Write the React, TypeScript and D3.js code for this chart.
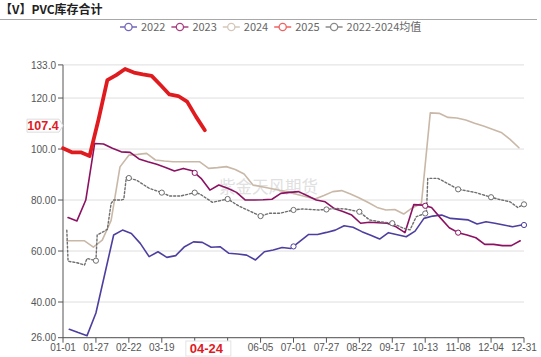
import React from "react";
import * as d3 from "d3";

const W = 541;
const H = 357;

const titleText = "【V】PVC库存合计";
const watermarkText = "紫金天风期货";
const tickLabels = ["01-01", "01-27", "02-22", "03-19", "04-14", "05-10", "06-05", "07-01", "07-27", "08-22", "09-17", "10-13", "11-08", "12-04", "12-31"];
const yTicks = [26, 40, 60, 80, 100, 120, 133];
const yTickLabels = ["26.00", "40.00", "60.00", "80.00", "100.0", "120.0", "133.0"];
const legendNames = ["2022", "2023", "2024", "2025", "2022-2024均值"];

// weekly series: first day-of-year index and weekly values
const start2022 = 5;
const values2022 = [29.3, 28.0, 26.8, 35.7, 51.0, 66.3, 68.2, 66.9, 63.0, 57.8, 59.7, 57.5, 58.2, 61.7, 63.6, 63.4, 61.5, 61.7, 59.1, 58.8, 58.4, 56.5, 59.7, 60.4, 61.4, 61.0, 63.8, 66.5, 66.5, 67.3, 68.2, 69.9, 69.3, 67.6, 66.2, 64.7, 67.2, 66.4, 65.6, 67.8, 72.8, 73.7, 74.1, 72.8, 72.5, 72.2, 70.6, 71.5, 70.9, 70.2, 69.5, 70.2];
const start2023 = 4;
const values2023 = [73.1, 71.8, 80.0, 102.2, 102.0, 100.3, 98.9, 98.7, 96.1, 95.0, 94.0, 92.8, 91.4, 92.4, 91.5, 88.5, 83.9, 85.9, 84.6, 83.0, 80.0, 80.0, 80.1, 80.3, 82.6, 83.0, 83.3, 81.7, 80.0, 79.3, 76.7, 75.5, 74.1, 70.9, 71.3, 71.1, 70.9, 69.5, 67.2, 78.2, 78.0, 77.1, 73.0, 69.1, 67.2, 66.3, 65.2, 62.6, 62.6, 62.1, 62.1, 64.0];
const start2024 = 3;
const values2024 = [64.0, 64.0, 64.0, 61.5, 64.3, 72.0, 93.0, 97.6, 97.9, 98.3, 95.7, 95.3, 95.0, 95.0, 95.0, 95.0, 92.4, 92.7, 93.1, 92.0, 90.2, 85.9, 85.2, 84.5, 83.8, 83.2, 82.2, 81.3, 80.4, 81.8, 83.3, 83.7, 82.4, 80.8, 79.0, 77.1, 76.1, 76.3, 74.5, 77.0, 78.6, 114.2, 114.0, 112.4, 112.2, 111.4, 110.1, 109.0, 107.8, 106.5, 103.8, 100.5];
const start2025 = 0;
const values2025 = [100.3, 98.7, 98.7, 97.3, 111.5, 127.0, 129.0, 131.4, 130.0, 129.3, 128.7, 125.1, 121.4, 120.8, 118.6, 112.7, 107.4];

// 2022-2024 average (daily series, sampled where it changes)
const avgDays = [3, 4, 11, 17, 19, 26, 27, 32, 35, 38, 40, 46, 48, 50, 58, 68, 78, 84, 93, 104, 108, 118, 130, 139, 156, 163, 171, 182, 189, 202, 208, 214, 223, 234, 242, 250, 260, 269, 274, 279, 287, 288, 296, 301, 312, 318, 326, 338, 344, 353, 359, 364];
const avgValues = [68.2, 56.0, 55.4, 54.5, 57.1, 56.2, 66.3, 67.6, 68.5, 78.7, 80.0, 80.0, 80.3, 88.9, 87.8, 84.6, 82.9, 81.6, 81.6, 82.9, 82.4, 79.1, 80.4, 77.6, 73.7, 74.8, 74.8, 76.1, 76.5, 76.1, 76.3, 76.7, 76.5, 75.4, 72.2, 71.5, 70.9, 68.9, 68.3, 73.5, 74.9, 88.5, 88.5, 87.2, 84.2, 83.7, 82.9, 81.1, 80.3, 79.3, 77.1, 78.3];

// dates where a symbol is shown
const marks2022 = ["07-01", "12-31"];
const marks2023 = ["04-14", "10-13", "11-08"];
const marks2024: string[] = [];
const marks2025: string[] = [];
const marksAvg = tickLabels.slice(1);

const pointerLabel = "04-24";
const pointerDay = 112;
const pointerValue = 107.4;

type P = [number, number];

function interp(pts: P[], day: number): number | null {
  if (day < pts[0][0] || day > pts[pts.length - 1][0]) {
    if (Math.abs(day - pts[pts.length - 1][0]) <= 3) return pts[pts.length - 1][1];
    return null;
  }
  for (let i = 0; i < pts.length - 1; i++) {
    const a = pts[i], b = pts[i + 1];
    if (day >= a[0] && day <= b[0]) {
      const t = b[0] === a[0] ? 0 : (day - a[0]) / (b[0] - a[0]);
      return a[1] + t * (b[1] - a[1]);
    }
  }
  return pts[pts.length - 1][1];
}

export default function App() {
  const x = d3.scaleLinear().domain([0, 364]).range([63, 524]);
  const y = d3.scaleLinear().domain([26, 133]).range([337.7, 64.9]);
  const tickDays = tickLabels.map((_, i) => i * 26);
  const dayOf = (l: string) => tickDays[tickLabels.indexOf(l)];
  const weekly = (start: number, vals: number[]): P[] => vals.map((v, i) => [start + 7 * i, v] as P);
  const avgPts: P[] = avgDays.map((d, i) => [d, avgValues[i]] as P);

  const series = [
    { name: "2024", color: "#c9b8a7", width: 1.6, dash: undefined as string | undefined, pts: weekly(start2024, values2024), marks: marks2024 },
    { name: "2022", color: "#4c3f9f", width: 1.6, dash: undefined, pts: weekly(start2022, values2022), marks: marks2022 },
    { name: "2023", color: "#8b1262", width: 1.6, dash: undefined, pts: weekly(start2023, values2023), marks: marks2023 },
    { name: "2022-2024均值", color: "#6e6e6e", width: 1.4, dash: "2,2", pts: avgPts, marks: marksAvg },
    { name: "2025", color: "#e01b1f", width: 3.8, dash: undefined, pts: weekly(start2025, values2025), marks: marks2025 },
  ];
  const legendColors: Record<string, string> = {
    "2022": "#7266bb",
    "2023": "#a8407f",
    "2024": "#d4c7b9",
    "2025": "#f06262",
    "2022-2024均值": "#8a8a8a",
  };

  const line = d3.line<P>().x((d) => x(d[0])).y((d) => y(d[1]));
  const numFont = "'Liberation Sans', Arial, sans-serif";
  const cjkFont = "'Noto Sans CJK SC', 'Liberation Sans', sans-serif";

  const px = x(pointerDay) + 1.5;
  const py = y(pointerValue) - 4.5;
  const boxL = px - 20.5;
  const boxR = px + 24.5;

  return (
    <svg width={W} height={H} style={{ position: "absolute", left: 0, top: 0, background: "#fff" }}>
      <rect x={0} y={0} width={W} height={H} fill="#fff" />
      {/* title */}
      <text x={0} y={14} fontFamily={cjkFont} fontWeight="bold" fontSize={12} fill="#222">{titleText}</text>
      <line x1={0} x2={537} y1={19.5} y2={19.5} stroke="#a8a8a8" strokeWidth={1} />

      {/* legend */}
      {legendNames.map((n, i) => {
        const lx = 120 + i * 51.4;
        const c = legendColors[n];
        return (
          <g key={n}>
            <line x1={lx} x2={lx + 17} y1={27} y2={27} stroke={c} strokeWidth={1.5} />
            <circle cx={lx + 8.5} cy={27} r={3.6} fill="#fff" stroke={c} strokeWidth={1.3} />
            <text x={lx + 21} y={31} fontFamily={cjkFont} fontSize={11} fill="#666">{n}</text>
          </g>
        );
      })}

      {/* grid */}
      {yTicks.map((t) => (
        <line key={t} x1={x(0)} x2={x(364)} y1={y(t)} y2={y(t)} stroke="#dedede" strokeWidth={1} />
      ))}

      {/* watermark */}
      <text x={219} y={193} fontFamily={cjkFont} fontSize={16.5} fill="#e0e0e0">{watermarkText}</text>

      {/* y axis */}
      <line x1={x(0)} x2={x(0)} y1={y(133)} y2={y(26)} stroke="#555" strokeWidth={1} />
      {yTicks.map((t, i) => (
        <g key={t}>
          <line x1={x(0) - 5} x2={x(0)} y1={y(t)} y2={y(t)} stroke="#555" strokeWidth={1} />
          <text x={x(0) - 7} y={y(t) + 3.6} textAnchor="end" fontFamily={numFont} fontSize={10} fill="#555">{yTickLabels[i]}</text>
        </g>
      ))}

      {/* x axis */}
      <line x1={x(0)} x2={x(364)} y1={y(26)} y2={y(26)} stroke="#555" strokeWidth={1} />
      {tickDays.map((d, i) => {
        const lx = x(d);
        const hidden = lx > boxL && lx < boxR;
        return (
          <g key={d}>
            <line x1={lx} x2={lx} y1={y(26)} y2={y(26) + 5} stroke="#555" strokeWidth={1} />
            {!hidden && (
              <text x={lx} y={351} textAnchor="middle" fontFamily={numFont} fontSize={10} fill="#555">{tickLabels[i]}</text>
            )}
          </g>
        );
      })}

      {/* series */}
      {series.map((s) => (
        <path key={s.name} d={line(s.pts) || ""} fill="none" stroke={s.color} strokeWidth={s.width} strokeDasharray={s.dash} strokeLinejoin="round" strokeLinecap="round" />
      ))}
      {series.map((s) =>
        s.marks.map((m) => {
          const dd = dayOf(m);
          const v = interp(s.pts, dd);
          if (v === null) return null;
          return <circle key={s.name + m} cx={x(dd)} cy={y(v)} r={2.6} fill="#fff" stroke={s.color} strokeWidth={1} />;
        })
      )}

      {/* y pointer label */}
      <path d={`M${27},${py - 6.5} H${59} L${63},${py} L${59},${py + 6.5} H${27} Z`} fill="#fff" stroke="#dcdcdc" strokeWidth={1} />
      <text x={43} y={py + 4.3} textAnchor="middle" fontFamily={numFont} fontWeight="bold" fontSize={12.5} fill="#e01b1f">{pointerValue.toFixed(1)}</text>

      {/* x pointer label */}
      <rect x={boxL} y={341} width={boxR - boxL} height={15} fill="#fff" stroke="#e4e4e4" strokeWidth={1} />
      <text x={px} y={352.5} textAnchor="middle" fontFamily={numFont} fontWeight="bold" fontSize={13} fill="#e01b1f">{pointerLabel}</text>
    </svg>
  );
}
